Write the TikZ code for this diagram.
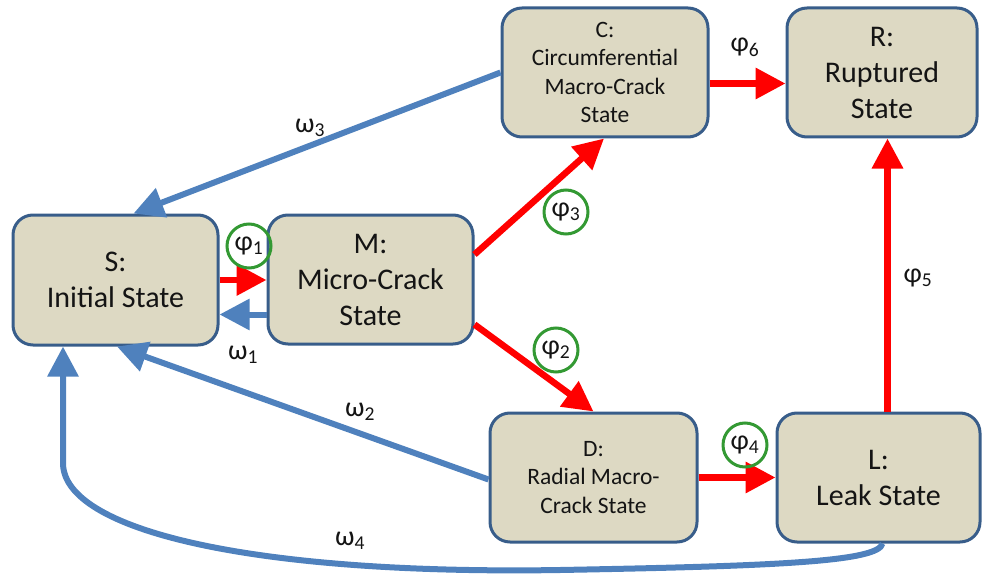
\documentclass[tikz,border=0pt]{standalone}
\usepackage{fontspec}
\newfontfamily\carlito{Carlito}
\usetikzlibrary{arrows.meta}
\definecolor{boxfill}{HTML}{DDD9C3}
\definecolor{boxline}{HTML}{385D8A}
\definecolor{flowblue}{HTML}{4F81BD}
\definecolor{ringgreen}{HTML}{339933}
\definecolor{inkdark}{HTML}{141414}

\begin{document}
\begin{tikzpicture}[x=1pt,y=-1pt,
  statebox/.style={draw=boxline, line width=3pt, fill=boxfill, rounded corners=20pt,
    inner sep=0pt, align=center, text=inkdark},
  bigtext/.style={font=\carlito\fontsize{30}{36}\selectfont},
  smalltext/.style={font=\carlito\fontsize{23.5}{28.5}\selectfont},
  failflow/.style={draw=red, line width=6.5pt, -{Triangle[length=30pt,width=30pt]}},
  repairflow/.style={draw=flowblue, line width=6pt, -{Triangle[length=30pt,width=30pt]}},
  rate/.style={font=\carlito\fontsize{28}{32}\selectfont, text=inkdark, inner sep=0pt},
  ring/.style={draw=ringgreen, line width=3pt, circle, minimum size=44pt},
]
\useasboundingbox (0,0) rectangle (982,575);

% states
\node[statebox, bigtext, minimum width=205pt, minimum height=130pt] (S) at (115.5,280) {S:\\Initial State};
\node[statebox, bigtext, minimum width=205pt, minimum height=129pt] (M) at (370.5,279.5) {M:\\Micro-Crack\\State};
\node[statebox, smalltext, minimum width=206pt, minimum height=129pt] (C) at (605,72.5) {C:\\Circumferential\\Macro-Crack\\State};
\node[statebox, bigtext, minimum width=190pt, minimum height=129pt] (R) at (882,72.5) {R:\\Ruptured\\State};
\node[statebox, smalltext, minimum width=207pt, minimum height=129pt] (D) at (593.5,477.5) {D:\\Radial Macro-\\Crack State};
\node[statebox, bigtext, minimum width=203pt, minimum height=129pt] (L) at (878.5,477.5) {L:\\Leak State};

% degradation transitions
\draw[failflow] (S.east) -- (S.east -| M.west);
\draw[failflow] ([yshift=25pt]M.east) -- ([xshift=-1pt]C.south);
\draw[failflow] ([yshift=-45pt]M.east) -- (D.north);
\draw[failflow] (D.east) -- (D.east -| L.west);
\draw[failflow] ([xshift=9pt]L.north) -- ([xshift=9pt]L.north |- R.south);
\draw[failflow] ([yshift=-11pt]C.east) -- ([yshift=-11pt]C.east -| R.west);

% repair transitions
\draw[repairflow] ([yshift=-35pt]M.west) -- ([yshift=-35pt]M.west -| S.east);
\draw[repairflow] (C.west) -- ([xshift=18pt]S.north);
\draw[repairflow] ([yshift=-2pt]D.west) -- ([xshift=1.5pt]S.south);
\coordinate (w4low) at (560,570);
\coordinate (w4bend) at (63,463);
\draw[repairflow] ([xshift=4pt]L.south) .. controls +(-4,18) and +(220,-4) .. (w4low)
  .. controls +(-310,5) and +(0,67) .. (w4bend) -- ([xshift=-52.5pt]S.south);

% rate labels
\node[rate, ring] (p1) at (249,246) {φ\textsubscript{1}};
\node[rate, ring] (p2) at (556,350) {φ\textsubscript{2}};
\node[rate, ring] (p3) at (566,212) {φ\textsubscript{3}};
\node[rate, ring] (p4) at (745,445) {φ\textsubscript{4}};
\node[rate] (p5) at (918,278) {φ\textsubscript{5}};
\node[rate] (p6) at (745,47) {φ\textsubscript{6}};
\node[rate] (w1) at (243,355) {ω\textsubscript{1}};
\node[rate] (w2) at (360,412) {ω\textsubscript{2}};
\node[rate] (w3) at (310,128) {ω\textsubscript{3}};
\node[rate] (w4) at (350,541) {ω\textsubscript{4}};
\end{tikzpicture}
\end{document}
